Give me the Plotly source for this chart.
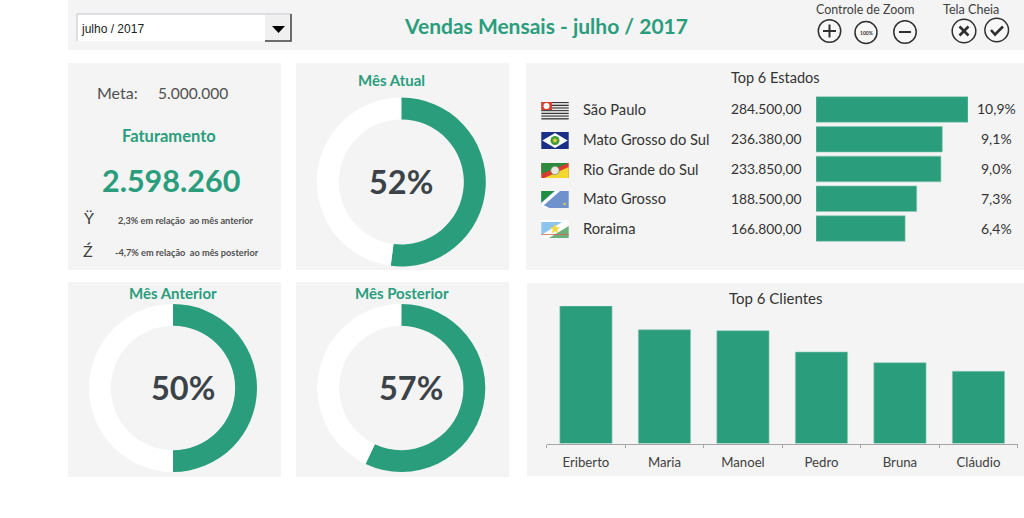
import math
import plotly.graph_objects as go

W, H = 1024, 518
GREEN = "#2a9d7c"
PANEL = "#f4f4f4"
DARK = "#404040"
FONT = "Lato"

# ---- data ----
month_label = "julho / 2017"
meta = "5.000.000"
faturamento = "2.598.260"
states = ["São Paulo", "Mato Grosso do Sul", "Rio Grande do Sul", "Mato Grosso", "Roraima"]
state_values = [284500, 236380, 233850, 188500, 166800]
state_value_labels = ["284.500,00", "236.380,00", "233.850,00", "188.500,00", "166.800,00"]
state_pct_labels = ["10,9%", "9,1%", "9,0%", "7,3%", "6,4%"]
clients = ["Eriberto", "Maria", "Manoel", "Pedro", "Bruna", "Cláudio"]
client_values = [275000, 227600, 225600, 183000, 161600, 144400]
donut_titles = ["Mês Atual", "Mês Anterior", "Mês Posterior"]
donut_pct = [52, 50, 57]


def X(v):
    return v / W


def Y(v):
    return 1 - v / H


shapes = []
annotations = []


def rect(x0, y0, x1, y1, fill, line=None, lw=0, layer="below"):
    shapes.append(dict(type="rect", xref="paper", yref="paper", x0=X(x0), x1=X(x1), y0=Y(y0), y1=Y(y1),
                       fillcolor=fill, line=dict(color=line or fill, width=lw), layer=layer))


def poly(pts, fill=None, line=None, lw=0):
    d = "M" + "L".join(f"{X(a):.5f},{Y(b):.5f}" for a, b in pts) + ("Z" if fill else "")
    shapes.append(dict(type="path", xref="paper", yref="paper", path=d,
                       fillcolor=fill if fill else "rgba(0,0,0,0)",
                       line=dict(color=line or "rgba(0,0,0,0)", width=lw), layer="above"))


def circle(cx, cy, r, fill=None, line=None, lw=0):
    shapes.append(dict(type="circle", xref="paper", yref="paper", x0=X(cx - r), x1=X(cx + r),
                       y0=Y(cy + r), y1=Y(cy - r), fillcolor=fill if fill else "rgba(0,0,0,0)",
                       line=dict(color=line or "rgba(0,0,0,0)", width=lw), layer="above"))


def star(cx, cy, r, fill):
    pts = []
    for i in range(10):
        a = -math.pi / 2 + i * math.pi / 5
        rr = r if i % 2 == 0 else r * 0.42
        pts.append((cx + rr * math.cos(a), cy + rr * math.sin(a)))
    poly(pts, fill)


def text(x, y, s, size, color=DARK, bold=False, anchor="center", font=FONT):
    annotations.append(dict(xref="paper", yref="paper", x=X(x), y=Y(y - 1), text=f"<b>{s}</b>" if bold else s,
                            showarrow=False, xanchor=anchor, yanchor="middle",
                            font=dict(family=font, size=size, color=color)))


# ---- panels ----
rect(68, 0, 1024, 50, PANEL)
rect(68, 63, 281, 270, PANEL)
rect(296, 63, 509, 270, PANEL)
rect(526, 63, 1024, 270, PANEL)
rect(68, 282, 281, 477, PANEL)
rect(296, 282, 509, 477, PANEL)
rect(527, 283, 1024, 476, PANEL)

# ---- dropdown ----
rect(77, 14, 291, 41, "#ffffff")
poly([(77, 41), (77, 14), (291, 14)], None, "#c4c4cc", 1)
rect(265, 15, 291, 41, "#f0f0f0", layer="above")
poly([(265, 41), (291, 41), (291, 14)], None, "#404040", 1.5)
poly([(272, 26), (285, 26), (278.5, 33)], "#000000")
text(78.5, 29.5, month_label, 12, "#222222", anchor="left", font="Liberation Sans")

# ---- header ----
text(546, 26, "Vendas Mensais - " + month_label, 21, GREEN, True)
text(865, 10.5, "Controle de Zoom", 12.4)
text(971, 10.5, "Tela Cheia", 12.6)
circle(829.5, 31, 11.2, "#f8f8f8", "#303030", 1.5)
poly([(823, 31), (836, 31)], None, "#303030", 2)
poly([(829.5, 24.5), (829.5, 37.5)], None, "#303030", 2)
circle(866, 32.5, 11, "#f8f8f8", "#303030", 1.5)
text(866, 33.5, "100%", 5, "#303030", True)
circle(905, 32, 11.2, "#f8f8f8", "#303030", 1.5)
poly([(899, 32), (911, 32)], None, "#303030", 2)
circle(964, 31, 11.8, "#f8f8f8", "#303030", 1.5)
poly([(959.5, 26.5), (968.5, 35.5)], None, "#303030", 2.6)
poly([(968.5, 26.5), (959.5, 35.5)], None, "#303030", 2.6)
circle(996.7, 30, 11.8, "#f8f8f8", "#303030", 1.5)
poly([(991, 30), (995, 34.5), (1003, 26.5)], None, "#303030", 2.6)

# ---- KPI panel ----
text(117, 93.5, "Meta:", 16, "#505050")
text(193, 93.5, meta, 15.5, "#505050")
text(168.5, 136.5, "Faturamento", 16.5, GREEN, True)
text(171, 181, faturamento, 30.5, GREEN, True)
text(89, 218.5, "Ÿ", 16, "#404040")
text(88, 251.5, "Ź", 16, "#404040")
text(186, 221, "2,3% em relação  ao mês anterior", 9.2, "#505050", True)
text(186.5, 253, "-4,7% em relação  ao mês posterior", 9.2, "#505050", True)

# ---- donuts ----
fig = go.Figure()
donut_geo = [(401.3, 182, 84.5), (173, 388, 84), (401.3, 388, 84)]
title_pos = [(391.5, 81), (173, 294), (401.5, 293.5)]
pct_pos = [(400.5, 182.5), (183, 388.5), (411, 388.5)]
for name, pct, (cx, cy, r), tp, pp in zip(donut_titles, donut_pct, donut_geo, title_pos, pct_pos):
    fig.add_trace(go.Pie(values=[pct, 100 - pct], hole=0.74, sort=False, direction="clockwise", rotation=0,
                         textinfo="none", hoverinfo="skip", showlegend=False,
                         marker=dict(colors=[GREEN, "#ffffff"], line=dict(width=0)),
                         domain=dict(x=[X(cx - r), X(cx + r)], y=[Y(cy + r), Y(cy - r)])))
    text(tp[0], tp[1], name, 15, GREEN, True)
    text(pp[0], pp[1], f"{pct}%", 32.5, "#3b4348", True)

# ---- Top 6 Estados ----
fig.add_trace(go.Bar(x=state_values, y=states, orientation="h", xaxis="x", yaxis="y",
                     marker=dict(color=GREEN, line=dict(color="#8fcab6", width=0.6)), width=0.86,
                     hoverinfo="skip", showlegend=False))
text(775, 78.5, "Top 6 Estados", 14.5, "#333333")
for s, v, p in zip(states, state_value_labels, state_pct_labels):
    for x, t, a, size in ((581, s, "left", 14.7), (728.5, v, "left", 13.8), (996.5, p, "center", 14)):
        annotations.append(dict(xref="paper", yref="y", x=X(x), y=s, text=t, showarrow=False, xanchor=a,
                                yanchor="middle", yshift=0.5, font=dict(family=FONT, size=size, color="#333333")))

# ---- flags ----
# São Paulo
fx0, fx1 = 541.3, 568.7
for i in range(13):
    y0 = 102 + i * 17.5 / 13
    rect(fx0, y0, fx1, y0 + 17.5 / 13, "#3a3a3a" if i % 2 == 0 else "#e8e8e8", layer="above")
rect(fx0, 102, 552, 110, "#d8402e", layer="above")
circle(546.5, 106, 3, "#ffffff")
# Mato Grosso do Sul
rect(fx0, 132, fx1, 149, "#1a2f86", layer="above")
poly([(fx0 + 1, 140.5), (555, 133), (fx1 - 1, 140.5), (555, 148)], "#ffffff")
circle(555, 140.5, 4.5, "#3d9a3a")
star(555, 140.5, 3.2, "#e8d13a")
# Rio Grande do Sul
rect(fx0, 163, fx1, 178, "#d83a30", layer="above")
poly([(fx0, 163), (fx1, 163), (fx0, 174)], "#2e8b3e")
poly([(fx1, 167), (fx1, 178), (fx0 + 3, 178)], "#f2d72e")
circle(555, 170.5, 4.2, "#e8e8e0", "#7a8a6a", 0.8)
# Mato Grosso
rect(fx0, 191, fx1, 208, "#6f92cc", layer="above")
poly([(fx0, 207.5), (fx0, 203), (555, 191), (560, 191)], "#ffffff")
poly([(fx0, 191), (554, 191), (fx0, 202.5)], "#1f8f3f")
poly([(fx0, 208), (fx0 + 8, 208), (fx0, 204)], "#ffffff")
star(564.5, 204, 2, "#e8d13a")
# Roraima
rect(fx0, 220, fx1, 238, "#ffffff", layer="above")
poly([(fx0, 222), (562, 222), (fx0, 235)], "#8cc4ee")
poly([(fx1, 226), (fx1, 238), (549, 238)], "#6cb07c")
poly([(fx0, 234.5), (fx1, 234.5)], None, "#e06050", 0.8)
star(555, 229, 5.5, "#f0dc40")

# ---- Top 6 Clientes ----
fig.add_trace(go.Bar(x=clients, y=client_values, xaxis="x2", yaxis="y2",
                     marker=dict(color=GREEN, line=dict(color="#8fcab6", width=0.6)), width=0.665,
                     hoverinfo="skip", showlegend=False))
text(775, 298.5, "Top 6 Clientes", 15, "#333333")

fig.update_layout(
    width=W, height=H, margin=dict(l=0, r=0, t=0, b=0, pad=0, autoexpand=False),
    paper_bgcolor="#ffffff", plot_bgcolor="rgba(0,0,0,0)", shapes=shapes, annotations=annotations,
    font=dict(family=FONT, color=DARK),
    xaxis=dict(domain=[X(816), X(968)], range=[0, 284500], visible=False, fixedrange=True),
    yaxis=dict(domain=[Y(243.4), Y(94.6)], range=[4.5, -0.5], type="category", categoryorder="array",
               categoryarray=states, visible=False, fixedrange=True),
    xaxis2=dict(domain=[X(546.7), X(1017.7)], anchor="y2", type="category", tickson="boundaries", ticks="outside",
                ticklen=3, tickcolor="#a6a6a6", tickwidth=1, showline=True, linecolor="#a6a6a6", linewidth=1,
                showgrid=False, ticklabelstandoff=7, tickfont=dict(family=FONT, size=13.2, color="#404040"),
                fixedrange=True),
    yaxis2=dict(domain=[Y(443.5), Y(306)], range=[0, 275000], anchor="x2", visible=False, fixedrange=True),
    bargap=0.14,
)
fig.write_html("out.html", config=dict(displayModeBar=False),
               post_script="document.body.style.margin='0';document.documentElement.style.overflow='hidden';")
